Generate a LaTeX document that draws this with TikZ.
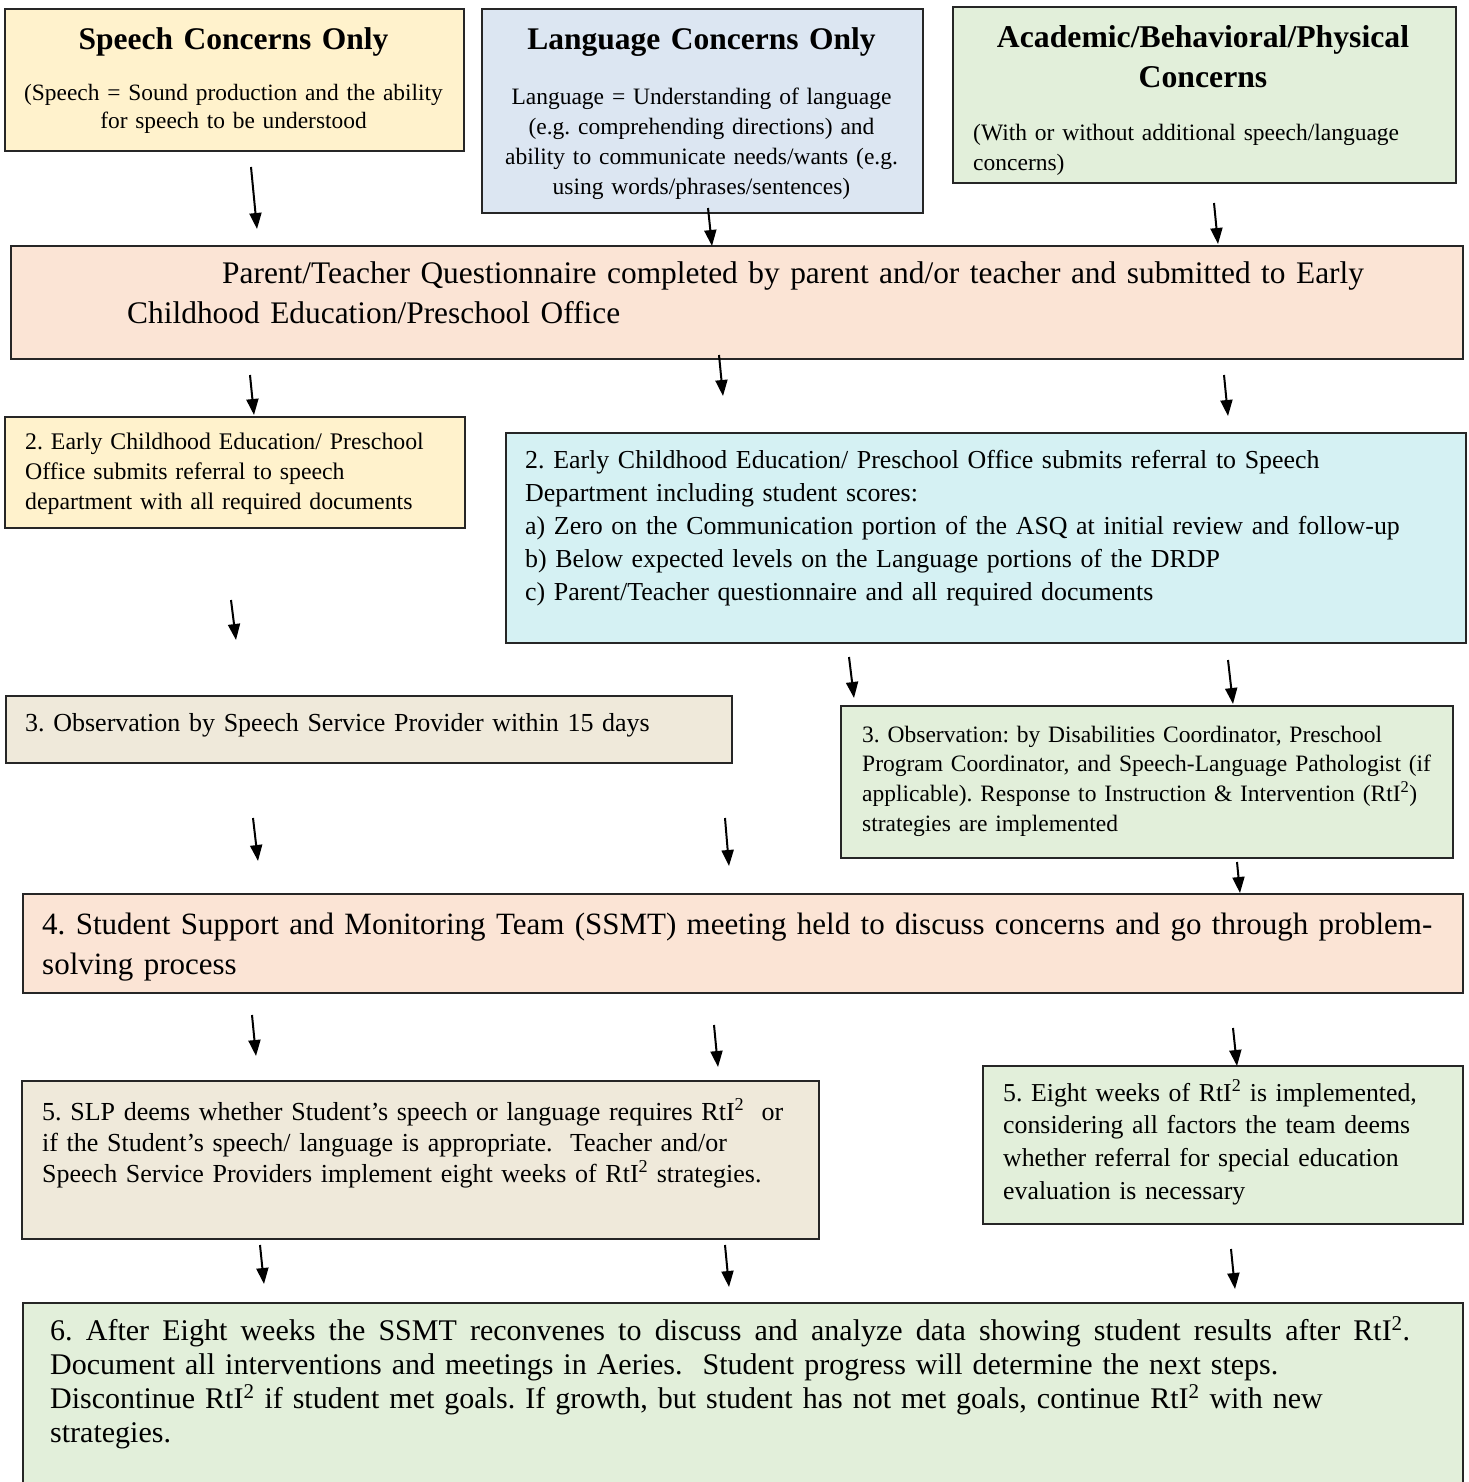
\documentclass[tikz,border=0pt]{standalone}
\usepackage{fontspec}
\setmainfont{Liberation Serif}
\usetikzlibrary{arrows.meta}
\frenchspacing

\definecolor{speechfill}{HTML}{FFF2CC}
\definecolor{langfill}{HTML}{DCE6F2}
\definecolor{greenfill}{HTML}{E2EFDA}
\definecolor{pinkfill}{HTML}{FBE4D5}
\definecolor{cyanfill}{HTML}{D5F1F3}
\definecolor{beigefill}{HTML}{EFE9DA}

\newcommand{\fs}[2]{\fontsize{#1}{#2}\selectfont}
\newcommand{\RtI}{RtI\textsuperscript{2}}

\begin{document}
\begin{tikzpicture}[x=1pt,y=-1pt,
  panel/.style={draw=black!85, line width=1.6pt, inner sep=0pt, anchor=north west},
  lefttext/.style={inner sep=0pt, anchor=base west, align=left},
  midtext/.style={inner sep=0pt, anchor=base, align=center},
  flow/.style={line width=2pt, -{Triangle[width=12pt,length=16pt]}}
]
\clip (0,0) rectangle (1468,1482);
\fill[white] (0,0) rectangle (1468,1482);

% ---------- top row: the three kinds of concern ----------
\node[panel, fill=speechfill, minimum width=459pt, minimum height=142pt] (speech) at (4,8) {};
\node[midtext, text width=450pt, font=\fs{31.5}{36}\bfseries] (speechT) at (233.5,50) {Speech Concerns Only};
\node[midtext, text width=450pt, font=\fs{23.4}{28}] (speechS) at (233.5,101)
  {(Speech = Sound production and the ability\\for speech to be understood};

\node[panel, fill=langfill, minimum width=441pt, minimum height=204pt] (lang) at (481,8) {};
\node[midtext, text width=430pt, font=\fs{31.5}{36}\bfseries] (langT) at (701.5,50) {Language Concerns Only};
\node[midtext, text width=430pt, font=\fs{23.5}{29.7}] (langS) at (701.5,105)
  {Language = Understanding of language\\(e.g. comprehending directions) and\\ability to communicate needs/wants (e.g.\\using words/phrases/sentences)};

\node[panel, fill=greenfill, minimum width=503pt, minimum height=176pt] (acad) at (952,6) {};
\node[midtext, text width=490pt, font=\fs{31.7}{40}\bfseries] (acadT) at (1203,48)
  {Academic/Behavioral/Physical\\Concerns};
\node[lefttext, text width=490pt, font=\fs{23.5}{30}] (acadS) at (973,141)
  {(With or without additional speech/language\\concerns)};

% ---------- questionnaire ----------
\node[panel, fill=pinkfill, minimum width=1452pt, minimum height=113pt] (quest) at (10,245) {};
\node[lefttext, text width=1340pt, font=\fs{31.4}{40}] (questT) at (127,283)
  {\hspace*{95pt}Parent/Teacher Questionnaire completed by parent and/or teacher and submitted to Early\\Childhood Education/Preschool Office};

% ---------- step 2 ----------
\node[panel, fill=speechfill, minimum width=460pt, minimum height=111pt] (refS) at (4,416) {};
\node[lefttext, text width=440pt, font=\fs{23.8}{30}] (refST) at (25,449)
  {2. Early Childhood Education/ Preschool\\Office submits referral to speech\\department with all required documents};

\node[panel, fill=cyanfill, minimum width=960pt, minimum height=210pt] (refL) at (505,432) {};
\node[lefttext, text width=940pt, font=\fs{25.9}{33}] (refLT) at (525,468)
  {2. Early Childhood Education/ Preschool Office submits referral to Speech\\Department including student scores:\\a) Zero on the Communication portion of the ASQ at initial review and follow-up\\b) Below expected levels on the Language portions of the DRDP\\c) Parent/Teacher questionnaire and all required documents};

% ---------- step 3 ----------
\node[panel, fill=beigefill, minimum width=726pt, minimum height=67pt] (obsS) at (5,695) {};
\node[lefttext, text width=700pt, font=\fs{26}{30}] (obsST) at (25,731)
  {3. Observation by Speech Service Provider within 15 days};

\node[panel, fill=greenfill, minimum width=612pt, minimum height=152pt] (obsA) at (840,705) {};
\node[lefttext, text width=590pt, font=\fs{23.5}{29.7}] (obsAT) at (862,742)
  {3. Observation: by Disabilities Coordinator, Preschool\\Program Coordinator, and Speech-Language Pathologist (if\\applicable). Response to Instruction \& Intervention (\RtI)\\strategies are implemented};

% ---------- step 4 ----------
\node[panel, fill=pinkfill, minimum width=1440pt, minimum height=99pt] (ssmt) at (22,893) {};
\node[lefttext, text width=1415pt, font=\fs{31}{40}] (ssmtT) at (42,934)
  {4. Student Support and Monitoring Team (SSMT) meeting held to discuss concerns and go through problem-\\solving process};

% ---------- step 5 ----------
\node[panel, fill=beigefill, minimum width=797pt, minimum height=158pt] (rtiS) at (21,1080) {};
\node[lefttext, text width=780pt, font=\fs{26}{31}] (rtiST) at (42,1120)
  {5. SLP deems whether Student’s speech or language requires \RtI{}\ \ or\\if the Student’s speech/ language is appropriate.\ \ Teacher and/or\\Speech Service Providers implement eight weeks of RtI\textsuperscript{2 }strategies.};

\node[panel, fill=greenfill, minimum width=480pt, minimum height=158pt] (rtiA) at (982,1065) {};
\node[lefttext, text width=460pt, font=\fs{25.8}{32.7}] (rtiAT) at (1003,1101)
  {5. Eight weeks of RtI\textsuperscript{2 }is implemented,\\considering all factors the team deems\\whether referral for special education\\evaluation is necessary};

% ---------- step 6 ----------
\node[panel, fill=greenfill, minimum width=1440pt, minimum height=200pt] (review) at (22,1302) {};
\node[lefttext, text width=1415pt, font=\fs{30}{34}] (reviewT) at (50,1340)
  {\hbox to 1360pt{6.\hfil\ After\hfil\ Eight\hfil\ weeks\hfil\ the\hfil\ SSMT\hfil\ reconvenes\hfil\ to\hfil\ discuss\hfil\ and\hfil\ analyze\hfil\ data\hfil\ showing\hfil\ student\hfil\ results\hfil\ after\hfil\ \RtI.}\\Document all interventions and meetings in Aeries.\ \ Student progress will determine the next steps.\\Discontinue RtI\textsuperscript{2 }if student met goals. If growth, but student has not met goals, continue RtI\textsuperscript{2 }with new\\strategies.};

% ---------- connectors ----------
\coordinate (a1s) at (251,167);  \coordinate (a1e) at (257,229);
\coordinate (a2s) at (708,208);  \coordinate (a2e) at (712,246);
\coordinate (a3s) at (1214,203); \coordinate (a3e) at (1218,244);
\coordinate (b1s) at (250,375);  \coordinate (b1e) at (254,415);
\coordinate (b2s) at (719,355);  \coordinate (b2e) at (723,396);
\coordinate (b3s) at (1224,375); \coordinate (b3e) at (1228,416);
\coordinate (c1s) at (231,600);  \coordinate (c1e) at (236,640);
\coordinate (c2s) at (849,657);  \coordinate (c2e) at (854,698);
\coordinate (c3s) at (1228,660); \coordinate (c3e) at (1233,704);
\coordinate (d1s) at (253,818);  \coordinate (d1e) at (258,861);
\coordinate (d2s) at (725,818);  \coordinate (d2e) at (729,866);
\coordinate (d3s) at (1237,862); \coordinate (d3e) at (1240,893);
\coordinate (e1s) at (252,1015); \coordinate (e1e) at (256,1056);
\coordinate (e2s) at (714,1025); \coordinate (e2e) at (718,1067);
\coordinate (e3s) at (1233,1028);\coordinate (e3e) at (1237,1066);
\coordinate (f1s) at (260,1245); \coordinate (f1e) at (264,1284);
\coordinate (f2s) at (725,1245); \coordinate (f2e) at (729,1287);
\coordinate (f3s) at (1231,1249);\coordinate (f3e) at (1235,1289);

\foreach \p in {a1,a2,a3,b1,b2,b3,c1,c2,c3,d1,d2,d3,e1,e2,e3,f1,f2,f3}
  \draw[flow] (\p s) -- (\p e);
\end{tikzpicture}
\end{document}
